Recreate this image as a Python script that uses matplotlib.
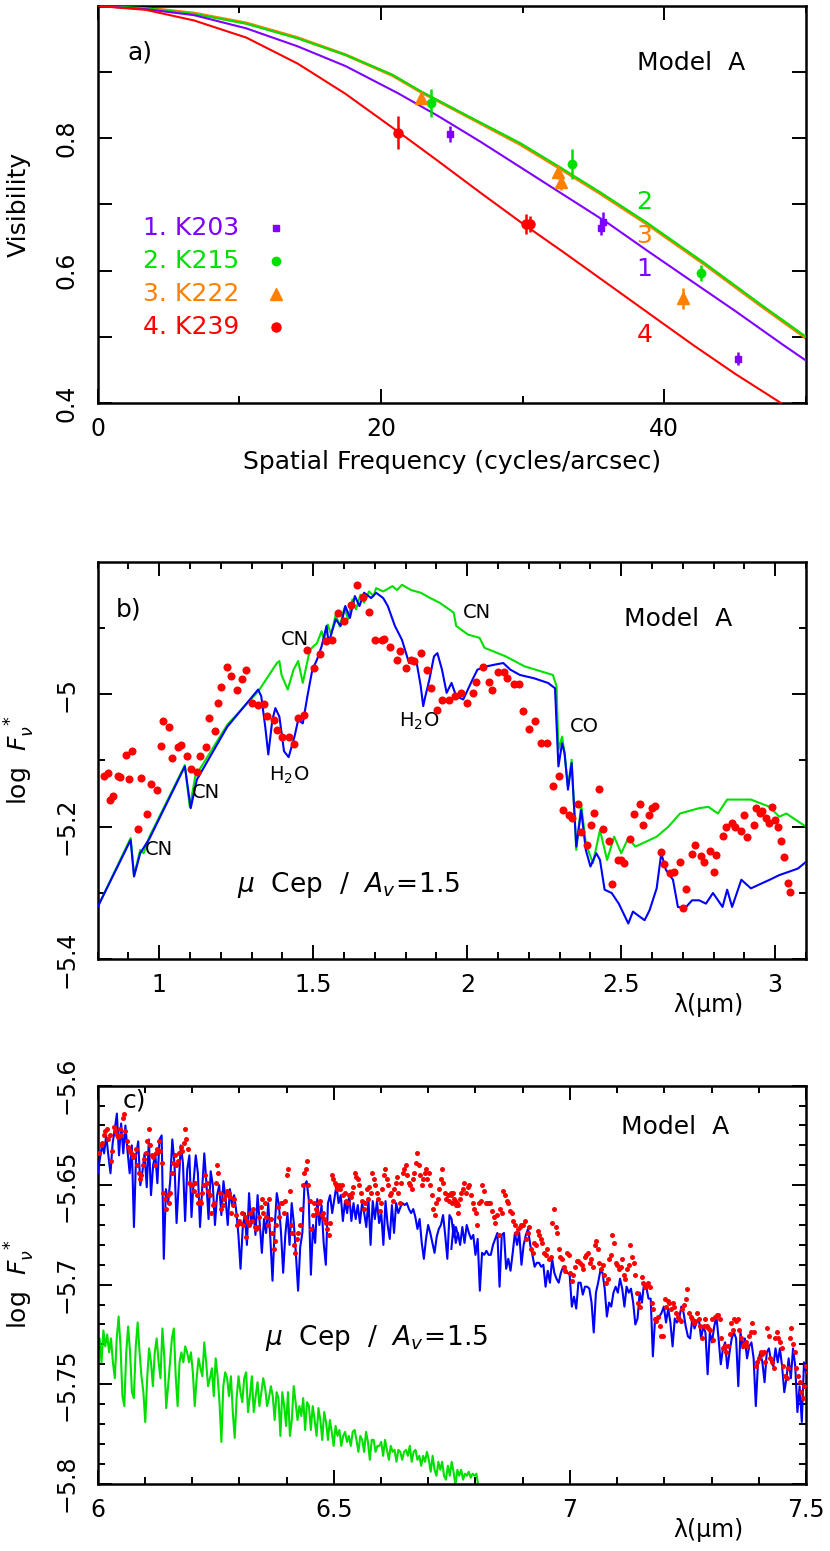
import numpy as np
import matplotlib
matplotlib.use("Agg")
import matplotlib.pyplot as plt
from matplotlib.ticker import FixedLocator, MultipleLocator, FuncFormatter

plt.rcParams['font.family'] = ['DejaVu Sans']
plt.rcParams['mathtext.fontset'] = 'dejavusans'

# ---------------- Panel a data ----------------
freq_grid_a = [0, 3.4, 6.8, 10.5, 14.1, 17.5, 21.2, 24, 27, 30, 33, 36, 38.8, 42, 45, 48.3, 50]
vis_k203 = [1.0, 0.995, 0.986, 0.966, 0.939, 0.909, 0.868, 0.834, 0.795, 0.754, 0.713, 0.672, 0.630, 0.583, 0.539, 0.489, 0.464]
vis_k239 = [1.0, 0.994, 0.978, 0.952, 0.913, 0.867, 0.810, 0.766, 0.718, 0.671, 0.626, 0.580, 0.537, 0.488, 0.444, 0.399, 0.375]
freq_grid_b = [0, 3.4, 6.8, 10.5, 14.1, 17.5, 20.8, 22.8, 26, 29.8, 32.5, 35.5, 38.8, 42.8, 46.8, 50]
vis_k215 = [1.0, 0.9965, 0.988, 0.973, 0.951, 0.926, 0.896, 0.871, 0.835, 0.793, 0.758, 0.718, 0.672, 0.612, 0.549, 0.500]
vis_k222 = [1.0, 0.997, 0.989, 0.974, 0.952, 0.926, 0.895, 0.870, 0.834, 0.791, 0.756, 0.716, 0.670, 0.610, 0.547, 0.498]

obs_k203_x = [24.9, 35.5, 35.7, 45.2]
obs_k203_y = [0.807, 0.664, 0.674, 0.467]
obs_k203_e = [0.012, 0.010, 0.014, 0.010]
obs_k215_x = [23.5, 33.5, 42.6]
obs_k215_y = [0.853, 0.761, 0.597]
obs_k215_e = [0.021, 0.023, 0.012]
obs_k222_x = [22.8, 32.5, 32.7, 41.3]
obs_k222_y = [0.861, 0.749, 0.734, 0.558]
obs_k222_e = [0.010, 0.010, 0.012, 0.016]
obs_k239_x = [21.2, 30.2, 30.5]
obs_k239_y = [0.808, 0.671, 0.670]
obs_k239_e = [0.025, 0.015, 0.012]

legend_labels = ["1. K203", "2. K215", "3. K222", "4. K239"]

# ---------------- Panel b data ----------------
lam_green_b = [0.800, 0.907, 0.918, 0.938, 0.949, 0.968, 1.083, 1.099, 1.117, 1.221, 1.321, 1.382, 1.390, 1.397,
               1.417, 1.436, 1.451, 1.466, 1.489, 1.512, 1.527, 1.535, 1.547, 1.558, 1.573, 1.586, 1.601, 1.613,
               1.627, 1.639, 1.653, 1.665, 1.681, 1.696, 1.704, 1.727, 1.757, 1.772, 1.788, 1.818, 1.849, 1.880,
               1.910, 1.941, 1.956, 1.964, 2.002, 2.040, 2.056, 2.125, 2.186, 2.278, 2.290, 2.296, 2.308, 2.316,
               2.327, 2.339, 2.354, 2.370, 2.385, 2.408, 2.431, 2.454, 2.477, 2.500, 2.523, 2.546, 2.615, 2.653,
               2.691, 2.753, 2.783, 2.814, 2.844, 2.921, 2.982, 3.013, 3.036, 3.100]
flux_green_b = [-5.321, -5.217, -5.274, -5.235, -5.240, -5.215, -5.107, -5.170, -5.124, -5.046, -4.996, -4.953,
                -4.950, -4.971, -4.993, -4.963, -4.950, -4.983, -4.933, -4.923, -4.905, -4.918, -4.895, -4.910,
                -4.880, -4.898, -4.870, -4.887, -4.857, -4.872, -4.850, -4.862, -4.845, -4.852, -4.840, -4.845,
                -4.837, -4.843, -4.835, -4.843, -4.847, -4.855, -4.862, -4.872, -4.877, -4.897, -4.910, -4.915,
                -4.930, -4.943, -4.958, -4.971, -4.988, -5.084, -5.064, -5.089, -5.139, -5.099, -5.235, -5.167,
                -5.225, -5.255, -5.205, -5.250, -5.215, -5.240, -5.217, -5.230, -5.215, -5.200, -5.180, -5.172,
                -5.170, -5.180, -5.159, -5.159, -5.170, -5.185, -5.180, -5.200]

lam_blue_b = [0.800, 0.907, 0.918, 0.938, 0.968, 1.083, 1.102, 1.122, 1.221, 1.321, 1.331, 1.344, 1.354, 1.367,
              1.377, 1.390, 1.405, 1.420, 1.439, 1.451, 1.466, 1.481, 1.497, 1.512, 1.527, 1.543, 1.550, 1.561,
              1.573, 1.589, 1.604, 1.619, 1.635, 1.650, 1.665, 1.688, 1.704, 1.727, 1.742, 1.765, 1.788, 1.811,
              1.834, 1.849, 1.857, 1.864, 1.877, 1.892, 1.903, 1.918, 1.933, 1.949, 1.964, 1.987, 2.017, 2.033,
              2.063, 2.094, 2.117, 2.140, 2.171, 2.217, 2.262, 2.285, 2.296, 2.308, 2.316, 2.327, 2.339, 2.354,
              2.370, 2.385, 2.400, 2.419, 2.431, 2.446, 2.469, 2.492, 2.523, 2.538, 2.561, 2.576, 2.592, 2.615,
              2.630, 2.645, 2.668, 2.684, 2.707, 2.730, 2.753, 2.775, 2.798, 2.829, 2.844, 2.860, 2.890, 2.921,
              2.982, 3.013, 3.044, 3.074, 3.100]
flux_blue_b = [-5.321, -5.220, -5.275, -5.240, -5.218, -5.109, -5.172, -5.129, -5.049, -4.993, -5.003, -5.049,
               -5.091, -5.039, -5.021, -5.034, -5.086, -5.095, -5.064, -5.039, -5.044, -5.003, -4.963, -4.948,
               -4.928, -4.897, -4.923, -4.905, -4.887, -4.897, -4.867, -4.885, -4.852, -4.867, -4.847, -4.855,
               -4.847, -4.855, -4.867, -4.897, -4.918, -4.953, -4.948, -4.988, -5.018, -5.003, -4.978, -4.943,
               -4.938, -4.963, -4.998, -4.983, -5.003, -5.008, -4.978, -4.963, -4.958, -4.955, -4.953, -4.963,
               -4.971, -4.976, -4.983, -4.991, -5.109, -5.074, -5.089, -5.144, -5.104, -5.230, -5.175, -5.235,
               -5.260, -5.240, -5.250, -5.295, -5.300, -5.316, -5.346, -5.328, -5.336, -5.341, -5.326, -5.293,
               -5.240, -5.265, -5.280, -5.321, -5.323, -5.311, -5.311, -5.316, -5.300, -5.321, -5.295, -5.321,
               -5.280, -5.293, -5.280, -5.273, -5.268, -5.263, -5.253]

lam_obs_b = [0.820, 0.832, 0.841, 0.851, 0.866, 0.874, 0.892, 0.903, 0.912, 0.930, 0.942, 0.961, 0.973, 0.991,
             1.004, 1.011, 1.033, 1.042, 1.060, 1.071, 1.091, 1.102, 1.122, 1.132, 1.152, 1.163, 1.181, 1.191,
             1.201, 1.221, 1.232, 1.252, 1.270, 1.281, 1.302, 1.322, 1.341, 1.351, 1.371, 1.382, 1.400, 1.420,
             1.439, 1.452, 1.471, 1.481, 1.501, 1.521, 1.540, 1.561, 1.581, 1.601, 1.621, 1.642, 1.661, 1.681,
             1.700, 1.722, 1.731, 1.749, 1.772, 1.783, 1.800, 1.818, 1.828, 1.849, 1.869, 1.883, 1.903, 1.919,
             1.941, 1.961, 1.981, 1.999, 2.019, 2.030, 2.050, 2.071, 2.080, 2.100, 2.120, 2.129, 2.151, 2.169,
             2.180, 2.200, 2.221, 2.241, 2.259, 2.279, 2.299, 2.310, 2.330, 2.341, 2.361, 2.370, 2.390, 2.402,
             2.410, 2.429, 2.440, 2.460, 2.469, 2.489, 2.500, 2.509, 2.530, 2.540, 2.560, 2.570, 2.590, 2.599,
             2.610, 2.630, 2.639, 2.659, 2.671, 2.690, 2.700, 2.710, 2.730, 2.740, 2.759, 2.769, 2.789, 2.802,
             2.809, 2.831, 2.840, 2.860, 2.870, 2.890, 2.900, 2.910, 2.930, 2.939, 2.950, 2.958, 2.970, 2.979,
             2.990, 2.999, 3.008, 3.019, 3.028, 3.040, 3.049]
flux_obs_b = [-5.123, -5.119, -5.160, -5.154, -5.123, -5.125, -5.092, -5.128, -5.085, -5.204, -5.126, -5.181,
              -5.135, -5.144, -5.078, -5.041, -5.050, -5.097, -5.080, -5.076, -5.094, -5.113, -5.117, -5.094,
              -5.080, -5.036, -5.056, -5.014, -4.989, -4.959, -4.972, -4.993, -4.977, -4.964, -5.014, -5.017,
              -5.015, -5.033, -5.039, -5.054, -5.064, -5.065, -5.075, -5.036, -5.032, -4.934, -4.961, -4.940,
              -4.920, -4.918, -4.878, -4.889, -4.866, -4.836, -4.853, -4.876, -4.919, -4.918, -4.916, -4.929,
              -4.949, -4.935, -4.960, -4.949, -4.950, -4.938, -4.963, -4.991, -5.024, -5.009, -5.009, -5.002,
              -4.998, -5.013, -4.998, -4.981, -4.959, -4.981, -4.993, -4.966, -4.967, -4.976, -4.985, -4.985,
              -5.025, -5.052, -5.040, -5.074, -5.073, -5.138, -5.124, -5.175, -5.183, -5.187, -5.165, -5.208,
              -5.227, -5.198, -5.180, -5.143, -5.203, -5.222, -5.286, -5.250, -5.250, -5.254, -5.219, -5.181,
              -5.166, -5.198, -5.183, -5.171, -5.169, -5.238, -5.256, -5.270, -5.269, -5.253, -5.322, -5.294,
              -5.241, -5.227, -5.244, -5.253, -5.236, -5.269, -5.242, -5.214, -5.200, -5.194, -5.201, -5.207,
              -5.183, -5.215, -5.197, -5.172, -5.180, -5.176, -5.187, -5.195, -5.170, -5.190, -5.200, -5.221,
              -5.245, -5.285, -5.298]

# ---------------- Panel c data ----------------
flux_blue_c1 = [-5.644, -5.637, -5.630, -5.634, -5.625, -5.635, -5.644, -5.629, -5.622, -5.614, -5.635, -5.619,
                -5.634, -5.620, -5.633, -5.644, -5.630, -5.671, -5.635, -5.628, -5.650, -5.643, -5.634, -5.651,
                -5.627, -5.655, -5.640, -5.634, -5.649, -5.627, -5.625, -5.687, -5.652, -5.659, -5.648, -5.627,
                -5.639, -5.669, -5.649, -5.630, -5.639, -5.668, -5.642, -5.635, -5.666, -5.648, -5.635, -5.644,
                -5.671, -5.652, -5.634, -5.649, -5.667, -5.643, -5.650, -5.670, -5.655, -5.650, -5.665, -5.648,
                -5.657, -5.670, -5.652, -5.660, -5.655, -5.663, -5.675, -5.692, -5.672, -5.664, -5.680, -5.654,
                -5.670, -5.662, -5.675, -5.655, -5.669, -5.684, -5.667, -5.674, -5.659, -5.677, -5.698, -5.672,
                -5.654, -5.660, -5.674, -5.694, -5.675, -5.664, -5.680, -5.659, -5.669, -5.685, -5.703, -5.681,
                -5.674, -5.650, -5.648, -5.657, -5.695, -5.670, -5.679, -5.657, -5.670, -5.660, -5.679, -5.690,
                -5.659, -5.655, -5.664, -5.657, -5.650, -5.659, -5.655, -5.668, -5.658, -5.664, -5.655, -5.668,
                -5.659, -5.667, -5.660, -5.669, -5.659, -5.664, -5.671, -5.657, -5.680, -5.658, -5.667, -5.658,
                -5.669, -5.664, -5.680, -5.658, -5.670, -5.677, -5.660, -5.674, -5.659, -5.664, -5.661, -5.659,
                -5.660, -5.659, -5.662, -5.664, -5.662, -5.666, -5.672, -5.667, -5.679, -5.687, -5.677, -5.670,
                -5.674, -5.679, -5.684, -5.676, -5.672, -5.670, -5.665, -5.675, -5.687, -5.665, -5.667, -5.676,
                -5.671, -5.675]
flux_blue_c2 = [-5.682, -5.670, -5.679, -5.674, -5.680, -5.671, -5.679, -5.670, -5.674, -5.677, -5.675, -5.685,
                -5.677, -5.703, -5.684, -5.685, -5.683, -5.685, -5.685, -5.680, -5.677, -5.674, -5.701, -5.675,
                -5.674, -5.692, -5.687, -5.693, -5.684, -5.674, -5.680, -5.674, -5.690, -5.680, -5.675, -5.672,
                -5.680, -5.685, -5.691, -5.689, -5.689, -5.691, -5.690, -5.701, -5.693, -5.699, -5.687, -5.694,
                -5.697, -5.699, -5.694, -5.691, -5.693, -5.694, -5.695, -5.711, -5.706, -5.712, -5.699, -5.699,
                -5.705, -5.701, -5.701, -5.702, -5.709, -5.724, -5.704, -5.699, -5.693, -5.694, -5.702, -5.716,
                -5.709, -5.711, -5.704, -5.701, -5.704, -5.697, -5.702, -5.711, -5.701, -5.704, -5.702, -5.709,
                -5.720, -5.717, -5.704, -5.709, -5.699, -5.701, -5.707, -5.707, -5.736, -5.717, -5.717, -5.716,
                -5.714, -5.711, -5.719, -5.712, -5.719, -5.731, -5.717, -5.719, -5.717, -5.711, -5.714, -5.721,
                -5.726, -5.727, -5.717, -5.722, -5.719, -5.717, -5.727, -5.721, -5.724, -5.745, -5.724, -5.729,
                -5.721, -5.716, -5.727, -5.740, -5.732, -5.729, -5.742, -5.734, -5.727, -5.724, -5.727, -5.751,
                -5.724, -5.732, -5.727, -5.737, -5.731, -5.729, -5.737, -5.761, -5.739, -5.734, -5.739, -5.749,
                -5.734, -5.732, -5.739, -5.741, -5.732, -5.739, -5.732, -5.741, -5.754, -5.747, -5.737, -5.747,
                -5.732, -5.741, -5.764, -5.751, -5.769, -5.739, -5.744, -5.741]

flux_green_c = [-5.734, -5.727, -5.739, -5.723, -5.731, -5.725, -5.734, -5.727, -5.739, -5.747, -5.727, -5.716,
                -5.731, -5.756, -5.761, -5.734, -5.721, -5.734, -5.754, -5.757, -5.731, -5.719, -5.734, -5.746,
                -5.754, -5.769, -5.747, -5.732, -5.739, -5.751, -5.734, -5.727, -5.739, -5.747, -5.722, -5.736,
                -5.762, -5.751, -5.739, -5.727, -5.722, -5.746, -5.761, -5.739, -5.734, -5.739, -5.731, -5.734,
                -5.739, -5.734, -5.744, -5.761, -5.747, -5.737, -5.742, -5.746, -5.729, -5.739, -5.751, -5.747,
                -5.742, -5.756, -5.737, -5.746, -5.759, -5.779, -5.751, -5.744, -5.747, -5.756, -5.746, -5.764,
                -5.777, -5.757, -5.746, -5.754, -5.759, -5.747, -5.744, -5.764, -5.756, -5.746, -5.764, -5.756,
                -5.749, -5.761, -5.754, -5.747, -5.752, -5.761, -5.757, -5.751, -5.756, -5.768, -5.754, -5.757,
                -5.776, -5.754, -5.761, -5.771, -5.754, -5.776, -5.768, -5.751, -5.759, -5.768, -5.761, -5.766,
                -5.757, -5.773, -5.759, -5.761, -5.773, -5.761, -5.768, -5.776, -5.762, -5.768, -5.778, -5.764,
                -5.769, -5.778, -5.768, -5.774, -5.781, -5.771, -5.776, -5.773, -5.781, -5.776, -5.774, -5.779,
                -5.776, -5.781, -5.774, -5.773, -5.778, -5.784, -5.776, -5.778, -5.784, -5.774, -5.779, -5.788,
                -5.778, -5.778, -5.784, -5.781, -5.781, -5.779, -5.786, -5.778, -5.783, -5.788, -5.781, -5.784,
                -5.783, -5.789, -5.783, -5.784, -5.788, -5.784, -5.783, -5.786, -5.781, -5.789, -5.784, -5.783,
                -5.788, -5.786, -5.791, -5.786, -5.789, -5.784, -5.788, -5.794, -5.786, -5.793, -5.796, -5.789,
                -5.793, -5.789, -5.796, -5.798, -5.791, -5.796, -5.789, -5.794, -5.801, -5.793, -5.796, -5.793,
                -5.798, -5.795, -5.796, -5.794, -5.797, -5.795, -5.796, -5.795, -5.801]

flux_obs_c1 = [-5.634, -5.630, -5.629, -5.625, -5.623, -5.622, -5.627, -5.625, -5.638, -5.633, -5.621, -5.623,
               -5.625, -5.626, -5.622, -5.625, -5.616, -5.614, -5.623, -5.628, -5.631, -5.633, -5.634, -5.636,
               -5.635, -5.632, -5.640, -5.644, -5.647, -5.645, -5.640, -5.637, -5.634, -5.628, -5.622, -5.630,
               -5.635, -5.636, -5.640, -5.634, -5.632, -5.628, -5.633, -5.639, -5.654, -5.657, -5.662, -5.655,
               -5.659, -5.654, -5.644, -5.639, -5.635, -5.640, -5.638, -5.634, -5.631, -5.633, -5.629, -5.622,
               -5.627, -5.632, -5.649, -5.650, -5.650, -5.653, -5.649, -5.655, -5.659, -5.658, -5.659, -5.654,
               -5.650, -5.645, -5.649, -5.653, -5.655, -5.664, -5.660, -5.659, -5.649, -5.640, -5.644, -5.654,
               -5.662, -5.660, -5.657, -5.655, -5.653, -5.654, -5.656, -5.664, -5.660, -5.657, -5.665, -5.670,
               -5.668, -5.669, -5.664, -5.670, -5.666, -5.676, -5.668, -5.670, -5.664, -5.668, -5.662, -5.671,
               -5.672, -5.671, -5.666, -5.661, -5.657, -5.664, -5.659, -5.666, -5.670, -5.657, -5.667, -5.674,
               -5.682, -5.678, -5.670, -5.661, -5.666, -5.659, -5.659, -5.664, -5.658, -5.645, -5.642, -5.653,
               -5.670, -5.674, -5.680, -5.684, -5.677, -5.674, -5.670, -5.662, -5.650, -5.644, -5.642, -5.638,
               -5.650, -5.658, -5.672, -5.665, -5.659, -5.662, -5.664, -5.659, -5.658, -5.665, -5.664, -5.667,
               -5.669, -5.672, -5.675, -5.669, -5.645, -5.647, -5.649, -5.650, -5.652, -5.650, -5.652, -5.650,
               -5.655, -5.654, -5.658, -5.659, -5.655, -5.656, -5.654, -5.651, -5.644, -5.646, -5.647, -5.650,
               -5.654, -5.658, -5.662, -5.659, -5.652, -5.657, -5.651, -5.654, -5.644, -5.647, -5.650, -5.654,
               -5.657, -5.663, -5.659, -5.652, -5.645, -5.642, -5.647, -5.650, -5.655, -5.654, -5.658, -5.652,
               -5.649, -5.646, -5.654, -5.659, -5.649, -5.644, -5.642, -5.640, -5.645, -5.649, -5.650, -5.652,
               -5.647, -5.644, -5.639, -5.634, -5.640, -5.645, -5.650, -5.647, -5.644, -5.642, -5.647, -5.644,
               -5.650, -5.655, -5.662, -5.665, -5.659, -5.657, -5.652, -5.647, -5.642, -5.649, -5.654, -5.657,
               -5.655, -5.658, -5.654, -5.659, -5.657, -5.658, -5.659, -5.660]
flux_obs_c2 = [-5.655, -5.654, -5.658, -5.660, -5.664, -5.657, -5.654, -5.652, -5.649, -5.654, -5.651, -5.650,
               -5.655, -5.659, -5.662, -5.664, -5.670, -5.659, -5.658, -5.650, -5.653, -5.659, -5.659, -5.659,
               -5.659, -5.663, -5.666, -5.669, -5.665, -5.675, -5.662, -5.664, -5.653, -5.655, -5.658, -5.659,
               -5.663, -5.664, -5.668, -5.670, -5.674, -5.672, -5.671, -5.670, -5.670, -5.668, -5.677, -5.674,
               -5.671, -5.682, -5.684, -5.679, -5.680, -5.673, -5.675, -5.677, -5.679, -5.684, -5.685, -5.682,
               -5.687, -5.686, -5.669, -5.662, -5.671, -5.674, -5.682, -5.686, -5.687, -5.691, -5.693, -5.684,
               -5.685, -5.694, -5.698, -5.695, -5.691, -5.688, -5.688, -5.689, -5.690, -5.692, -5.686, -5.685,
               -5.684, -5.689, -5.687, -5.691, -5.680, -5.678, -5.682, -5.689, -5.692, -5.690, -5.695, -5.699,
               -5.697, -5.687, -5.685, -5.675, -5.679, -5.689, -5.690, -5.692, -5.691, -5.687, -5.695, -5.697,
               -5.692, -5.690, -5.680, -5.686, -5.689, -5.695, -5.704, -5.709, -5.711, -5.696, -5.699, -5.701,
               -5.700, -5.699, -5.701, -5.709, -5.712, -5.717, -5.718, -5.716, -5.721, -5.726, -5.726, -5.707,
               -5.711, -5.708, -5.709, -5.712, -5.709, -5.711, -5.714, -5.716, -5.717, -5.718, -5.712, -5.710,
               -5.707, -5.702, -5.714, -5.716, -5.717, -5.719, -5.718, -5.714, -5.717, -5.721, -5.727, -5.721,
               -5.717, -5.721, -5.722, -5.723, -5.717, -5.728, -5.716, -5.715, -5.715, -5.717, -5.727, -5.732,
               -5.731, -5.734, -5.731, -5.725, -5.719, -5.723, -5.717, -5.718, -5.717, -5.723, -5.727, -5.731,
               -5.730, -5.729, -5.731, -5.726, -5.724, -5.719, -5.724, -5.741, -5.739, -5.737, -5.734, -5.735,
               -5.734, -5.739, -5.722, -5.726, -5.737, -5.739, -5.742, -5.727, -5.724, -5.727, -5.729, -5.732,
               -5.741, -5.746, -5.747, -5.742, -5.727, -5.722, -5.730, -5.734, -5.742, -5.746, -5.749, -5.754,
               -5.757, -5.751, -5.741, -5.744, -5.742]

lam_blue_c1 = np.linspace(6.000, 6.763, len(flux_blue_c1))
lam_blue_c2 = np.linspace(6.749, 7.505, len(flux_blue_c2))
lam_green_c = np.linspace(6.000, 6.806, len(flux_green_c))
lam_obs_c1 = np.linspace(6.0035, 6.763, len(flux_obs_c1))
lam_obs_c2 = np.linspace(6.749, 7.507, len(flux_obs_c2))

# ---------------- styling ----------------
PURPLE = '#8000ff'
GREEN = '#00e000'
ORANGE = '#ff8000'
RED = '#ff0000'
BLUE = '#0000ff'
FS = 17
LW = 1.5

def fmt_minus(v, pos):
    return ('%g' % round(v, 4)).replace('-', '\u2212')

fig = plt.figure(figsize=(8.3, 15.51), dpi=100)
axA = fig.add_axes([0.1177, 0.7402, 0.8534, 0.2560])
axB = fig.add_axes([0.1177, 0.3815, 0.8534, 0.2564])
axC = fig.add_axes([0.1177, 0.0434, 0.8534, 0.2566])

def style(ax):
    for s in ax.spines.values():
        s.set_linewidth(1.8)
    ax.tick_params(which='both', direction='in', top=True, right=True, width=1.4,
                   labelsize=FS)
    ax.tick_params(which='major', length=10)
    ax.tick_params(which='minor', length=5)
    ax.tick_params(axis='y', which='major', pad=14)
    ax.tick_params(axis='x', which='major', pad=10)
    for lbl in ax.get_yticklabels():
        lbl.set_rotation(90)
        lbl.set_va('center')

# ---- Panel a ----
axA.plot(freq_grid_b, vis_k222, color=ORANGE, lw=2.2, zorder=2)
axA.plot(freq_grid_b, vis_k215, color=GREEN, lw=LW, zorder=3)
axA.plot(freq_grid_a, vis_k203, color=PURPLE, lw=LW, zorder=3)
axA.plot(freq_grid_a, vis_k239, color=RED, lw=LW, zorder=3)
axA.errorbar(obs_k203_x, obs_k203_y, yerr=obs_k203_e, fmt='s', color=PURPLE, ms=5, elinewidth=1.8, capsize=0, zorder=4)
axA.errorbar(obs_k215_x, obs_k215_y, yerr=obs_k215_e, fmt='o', color=GREEN, ms=6, elinewidth=1.8, capsize=0, zorder=4)
axA.errorbar(obs_k222_x, obs_k222_y, yerr=obs_k222_e, fmt='^', color=ORANGE, ms=8, elinewidth=1.8, capsize=0, zorder=4)
axA.errorbar(obs_k239_x, obs_k239_y, yerr=obs_k239_e, fmt='o', color=RED, ms=6.5, elinewidth=1.8, capsize=0, zorder=4)

leg_cols = [PURPLE, GREEN, ORANGE, RED]
leg_marks = ['s', 'o', '^', 'o']
leg_ms = [5, 6, 8, 6.5]
leg_y = [0.665, 0.615, 0.565, 0.515]
for lab, c, m, ms, yy in zip(legend_labels, leg_cols, leg_marks, leg_ms, leg_y):
    axA.text(3.2, yy, lab, color=c, fontsize=18, va='center', ha='left')
    axA.plot([12.6], [yy], marker=m, color=c, ms=ms, ls='none')
for lab, c, yy in zip(['2', '3', '1', '4'], [GREEN, ORANGE, PURPLE, RED], [0.703, 0.653, 0.603, 0.503]):
    axA.text(38.6, yy, lab, color=c, fontsize=18, ha='center', va='center')
axA.text(3.0, 0.930, 'a)', fontsize=18, ha='center', va='center')
axA.text(41.9, 0.914, 'Model  A', fontsize=18, ha='center', va='center')

axA.set_xlim(0, 50)
axA.set_ylim(0.4, 1.0)
axA.xaxis.set_major_locator(FixedLocator([0, 20, 40]))
axA.xaxis.set_minor_locator(FixedLocator([10, 30, 50]))
axA.yaxis.set_major_locator(FixedLocator([0.4, 0.6, 0.8]))
axA.yaxis.set_minor_locator(FixedLocator([0.5, 0.7, 0.9]))
axA.yaxis.set_major_formatter(FuncFormatter(lambda v, p: '%.1f' % v))
style(axA)
axA.tick_params(axis='y', which='minor', length=10)
axA.set_ylabel('Visibility', fontsize=18)
axA.yaxis.set_label_coords(-0.095, 0.5)
axA.text(0.5, -0.148, 'Spatial Frequency (cycles/arcsec)', transform=axA.transAxes,
         fontsize=18, ha='center', va='center')

# ---- Panel b ----
axB.plot(lam_green_b, flux_green_b, color=GREEN, lw=LW, zorder=2)
axB.plot(lam_blue_b, flux_blue_b, color=BLUE, lw=LW, zorder=3)
axB.plot(lam_obs_b, flux_obs_b, 'o', color=RED, ms=5.8, mec='none', zorder=4)
axB.set_xlim(0.8, 3.1)
axB.set_ylim(-5.4, -4.8)
axB.xaxis.set_major_locator(FixedLocator([1, 1.5, 2, 2.5, 3]))
axB.xaxis.set_minor_locator(MultipleLocator(0.1))
axB.xaxis.set_major_formatter(FuncFormatter(fmt_minus))
axB.yaxis.set_major_locator(FixedLocator([-5.4, -5.2, -5.0]))
axB.yaxis.set_minor_locator(FixedLocator([-5.3, -5.1, -4.9]))
axB.yaxis.set_major_formatter(FuncFormatter(fmt_minus))
style(axB)
axB.text(0.900, -4.872, 'b)', fontsize=18, ha='center', va='center')
axB.text(2.684, -4.887, 'Model  A', fontsize=18, ha='center', va='center')
axB.text(1.987, -4.877, 'CN', fontsize=14, ha='left', va='center')
axB.text(1.439, -4.917, 'CN', fontsize=14, ha='center', va='center')
axB.text(1.423, -5.122, 'H$_2$O', fontsize=14, ha='center', va='center')
axB.text(1.152, -5.149, 'CN', fontsize=14, ha='center', va='center')
axB.text(0.999, -5.235, 'CN', fontsize=14, ha='center', va='center')
axB.text(1.844, -5.041, 'H$_2$O', fontsize=14, ha='center', va='center')
axB.text(2.380, -5.049, 'CO', fontsize=14, ha='center', va='center')
axB.text(1.252, -5.288, r'$\mu$  Cep  /  $A_v\!=\!\mathit{1.5}$', fontsize=19, ha='left', va='center')
axB.set_ylabel(r'log  $F_{\nu}^{\ *}$', fontsize=18)
axB.yaxis.set_label_coords(-0.085, 0.5)
axB.text(0.862, -0.115, 'λ(μm)', transform=axB.transAxes, fontsize=17, ha='center', va='center')

# ---- Panel c ----
axC.plot(lam_green_c, flux_green_c, color=GREEN, lw=LW, zorder=2)
axC.plot(lam_blue_c1, flux_blue_c1, color=BLUE, lw=LW, zorder=3)
axC.plot(lam_blue_c2, flux_blue_c2, color=BLUE, lw=LW, zorder=3)
axC.plot(lam_obs_c1, flux_obs_c1, 'o', color=RED, ms=3.6, mec='none', zorder=4)
axC.plot(lam_obs_c2, flux_obs_c2, 'o', color=RED, ms=3.6, mec='none', zorder=4)
axC.set_xlim(6.0, 7.5)
axC.set_ylim(-5.8, -5.6)
axC.xaxis.set_major_locator(FixedLocator([6, 6.5, 7, 7.5]))
axC.xaxis.set_minor_locator(MultipleLocator(0.1))
axC.xaxis.set_major_formatter(FuncFormatter(fmt_minus))
axC.yaxis.set_major_locator(FixedLocator([-5.8, -5.75, -5.7, -5.65, -5.6]))
axC.yaxis.set_minor_locator(MultipleLocator(0.01))
axC.yaxis.set_major_formatter(FuncFormatter(fmt_minus))
style(axC)
axC.text(6.078, -5.6075, 'c)', fontsize=18, ha='center', va='center')
axC.text(7.223, -5.621, 'Model  A', fontsize=18, ha='center', va='center')
axC.text(6.354, -5.727, r'$\mu$  Cep  /  $A_v\!=\!\mathit{1.5}$', fontsize=19, ha='left', va='center')
axC.set_ylabel(r'log  $F_{\nu}^{\ *}$', fontsize=18)
axC.yaxis.set_label_coords(-0.085, 0.5)
axC.text(0.862, -0.116, 'λ(μm)', transform=axC.transAxes, fontsize=17, ha='center', va='center')

fig.savefig('out.png', dpi=100)
